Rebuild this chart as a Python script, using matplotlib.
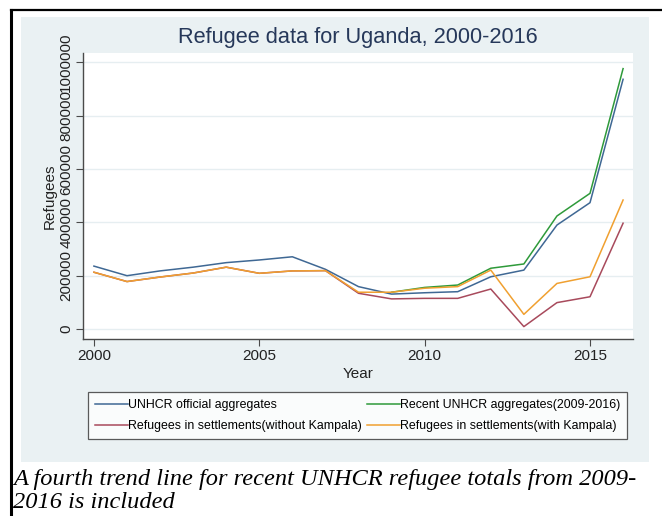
import matplotlib
matplotlib.use("Agg")
import matplotlib.pyplot as plt
from matplotlib.patches import Rectangle
from matplotlib.lines import Line2D

plt.rcParams["font.family"] = ["Liberation Sans", "DejaVu Sans"]

years = list(range(2000, 2017))
recent_years = list(range(2009, 2017))

unhcr_official = [236000, 200000, 218000, 232000, 249000, 259000, 271000, 224000,
                  159000, 131000, 136000, 140000, 196000, 221000, 390000, 474000, 937000]
unhcr_recent = [138000, 156000, 165000, 228000, 244000, 424000, 509000, 977000]
settle_without = [213000, 178000, 195000, 210000, 232000, 209000, 218000, 219000,
                  134000, 113000, 115000, 115000, 150000, 9000, 99000, 121000, 397000]
settle_with = [213000, 178000, 195000, 210000, 232000, 209000, 218000, 219000,
               138000, 138000, 153000, 159000, 221000, 55000, 171000, 196000, 484000]

y_ticks = [0, 200000, 400000, 600000, 800000, 1000000]
x_ticks = [2000, 2005, 2010, 2015]

bg = "#EAF1F3"
W, H = 662, 516

fig = plt.figure(figsize=(W / 100, H / 100), dpi=100)
fig.patch.set_facecolor("white")

# stata-like grey graph region, kept behind the axes
fig.patches.append(Rectangle((21 / W, 1 - 462 / H), (649 - 21) / W, (462 - 17) / H,
                             transform=fig.transFigure, facecolor=bg, edgecolor="none", zorder=-5))
# page frame lines
fig.lines.append(Line2D([11 / W, 11 / W], [0, 1 - 10 / H], transform=fig.transFigure,
                        color="black", lw=2.2, zorder=-4))
fig.lines.append(Line2D([11 / W, 1], [1 - 10 / H, 1 - 10 / H], transform=fig.transFigure,
                        color="black", lw=1.6, zorder=-4))

ax = fig.add_axes([83 / W, 1 - 339 / H, 550 / W, 286 / H])
ax.set_facecolor("white")

ax.plot(years, unhcr_official, color="#3F6894", lw=1.1, label="UNHCR official aggregates")
ax.plot(recent_years, unhcr_recent, color="#2E9A3A", lw=1.1, label="Recent UNHCR aggregates(2009-2016)")
ax.plot(years, settle_without, color="#A84A5C", lw=1.1, label="Refugees in settlements(without Kampala)")
ax.plot(years, settle_with, color="#F0A030", lw=1.1, label="Refugees in settlements(with Kampala)")

ax.set_xlim(1999.67, 2016.3)
ax.set_ylim(-37500, 1035600)
ax.set_xticks(x_ticks)
ax.set_yticks(y_ticks)
ax.set_yticklabels([str(v) for v in y_ticks], rotation=90, va="center")
ax.grid(axis="y", color="#E6EEF1", lw=1.0)
ax.set_axisbelow(True)

for s in ["top", "right"]:
    ax.spines[s].set_visible(False)
for s in ["left", "bottom"]:
    ax.spines[s].set_color("#4a4a4a")
    ax.spines[s].set_linewidth(1.0)

ax.tick_params(axis="both", direction="out", length=5, width=0.8, color="#4a4a4a",
               labelsize=11, labelcolor="#222222", pad=2)

ax.set_xlabel("Year", fontsize=11, color="#222222", labelpad=3)
ax.set_ylabel("Refugees", fontsize=11, color="#222222", labelpad=2)

fig.text(358 / W, 1 - 37 / H, "Refugee data for Uganda, 2000-2016", ha="center", va="center",
         fontsize=15.7, color="#26385A")

handles, labels = ax.get_legend_handles_labels()
order = [0, 2, 1, 3]
leg = fig.legend([handles[i] for i in order], [labels[i] for i in order], ncol=2,
                 loc="center", bbox_to_anchor=(357.5 / W, 1 - 415.5 / H),
                 fontsize=8.9, frameon=True, fancybox=False, edgecolor="#333333",
                 handlelength=2.65, handletextpad=0.0, columnspacing=0.45,
                 borderpad=0.55, labelspacing=0.7)
leg.get_frame().set_linewidth(0.9)

fig.text(13 / W, 1 - 485 / H, "A fourth trend line for recent UNHCR refugee totals from 2009-",
         family="Liberation Serif", style="italic", fontsize=17.6, ha="left", va="baseline")
fig.text(13 / W, 1 - 508 / H, "2016 is included",
         family="Liberation Serif", style="italic", fontsize=17.6, ha="left", va="baseline")

fig.savefig("out.png", dpi=100, facecolor="white")
